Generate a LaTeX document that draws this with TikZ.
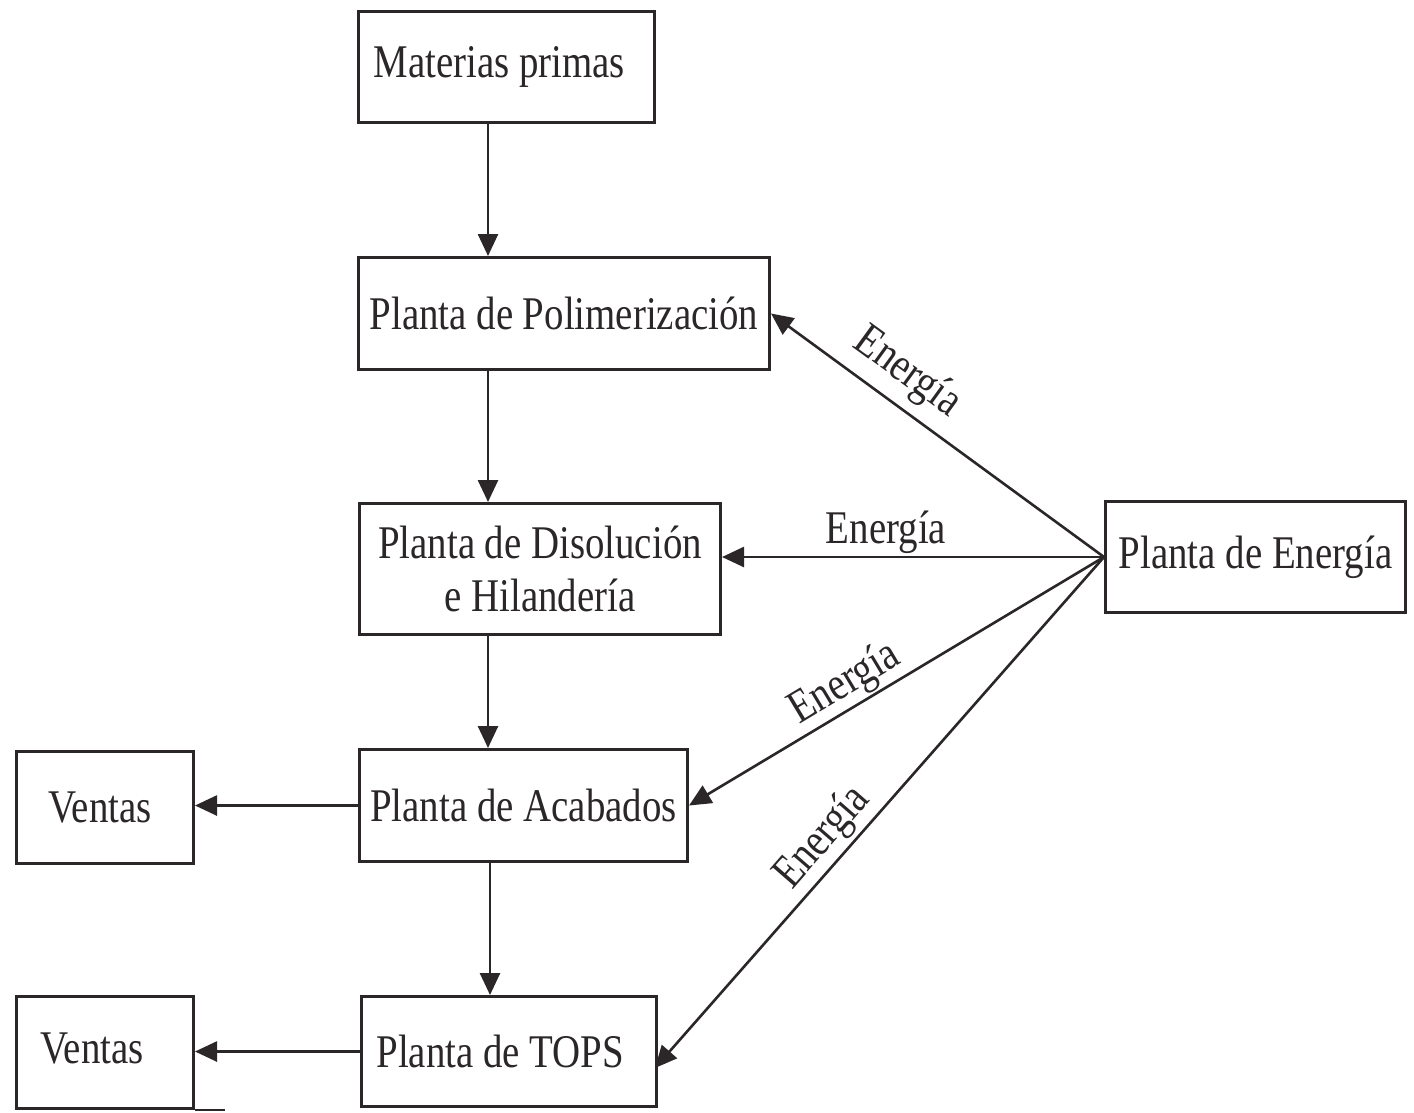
\documentclass[tikz,border=0pt]{standalone}
\usepackage{fontspec}
\setmainfont{Liberation Serif}[FakeStretch=0.83]
\usetikzlibrary{arrows.meta}
\definecolor{ink}{HTML}{2B2729}
\begin{document}
\begin{tikzpicture}[x=1bp, y=-1bp, ink,
  box/.style={draw, line width=3bp, rectangle, anchor=north west,
    inner xsep=5bp, inner ysep=0pt, align=center,
    font=\fontsize{47}{55}\selectfont},
  flow/.style={-{Triangle[length=22bp,width=20bp]}, line width=2.6bp},
  lbl/.style={font=\fontsize{47}{55}\selectfont, inner sep=1bp}]
  \useasboundingbox[fill=white] (0,0) rectangle (1414,1112);

  % process chain
  \node[box, minimum width=296bp, minimum height=111bp] (mat) at (357,10) {\makebox[266bp][l]{Materias primas}};
  \node[box, minimum width=411bp, minimum height=112bp] (pol) at (357,256) {Planta de Polimerización};
  \node[box, minimum width=361bp, minimum height=131bp] (dis) at (358,502) {Planta de Disolución\\[-2bp]e Hilandería};
  \node[box, minimum width=328bp, minimum height=112bp] (aca) at (358,748) {Planta de Acabados};
  \node[box, minimum width=295bp, minimum height=110bp] (tops) at (360,995) {\makebox[265bp][l]{Planta de TOPS}};

  % sales outlets
  \node[box, minimum width=177bp, minimum height=112bp] (ven1) at (15,750) {\makebox[150bp][l]{\hspace{18bp}\raisebox{-4bp}{Ventas}}};
  \node[box, minimum width=177bp, minimum height=112bp] (ven2) at (15,995) {\makebox[150bp][l]{\hspace{10bp}\raisebox{9bp}{Ventas}}};
  \draw[line width=2bp] (ven2.south east) -- ++(30,0);

  % power plant
  \node[box, minimum width=300bp, minimum height=111bp] (ene) at (1104,500) {Planta de Energía};

  % vertical flow
  \coordinate (col) at (488,0);
  \draw[flow] (col |- mat.south) -- (col |- pol.north);
  \draw[flow] (col |- pol.south) -- (col |- dis.north);
  \draw[flow] (col |- dis.south) -- (col |- aca.north);
  \coordinate (col2) at (490,0);
  \draw[flow] (col2 |- aca.south) -- (col2 |- tops.north);

  % sales
  \draw[flow] (aca.west) -- (aca.west -| ven1.east);
  \draw[flow] (tops.west) -- (tops.west -| ven2.east);

  % energy supply
  \coordinate (hub) at (ene.west);
  \coordinate (topsin) at (655,1068);
  \draw[flow] (hub) -- (pol.east);
  \draw[flow] (hub) -- (dis.east |- hub);
  \draw[flow] (hub) -- (aca.east);
  \draw[flow] (hub) -- (topsin);

  \node[lbl, rotate=-36] (e1) at (907,373) {Energía};
  \node[lbl] (e2) at (886,532) {Energía};
  \node[lbl, rotate=31] (e3) at (845,684) {Energía};
  \node[lbl, rotate=49] (e4) at (823,838) {Energía};
\end{tikzpicture}
\end{document}
